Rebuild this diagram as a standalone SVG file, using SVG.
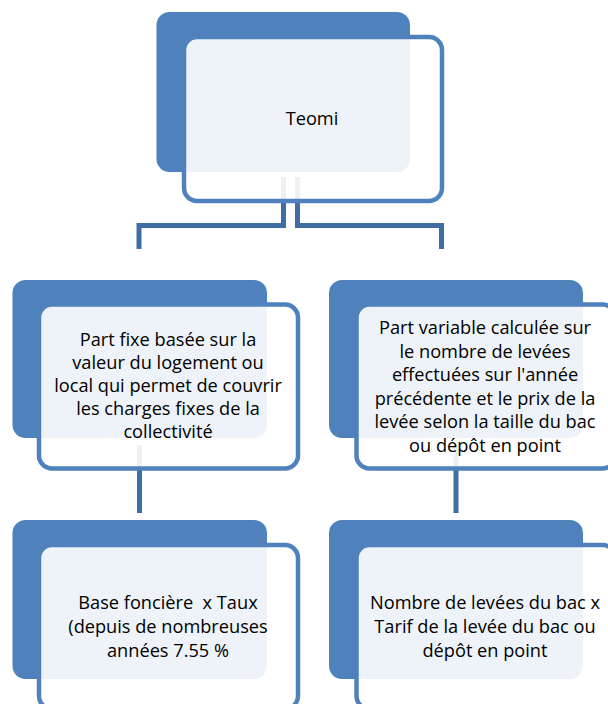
<svg xmlns="http://www.w3.org/2000/svg" width="608" height="704" viewBox="0 0 608 704">
<style>
.back{fill:#4F81BD}
.front{fill:#FFFFFF;fill-opacity:0.9;stroke:#4F81BD;stroke-width:4.5}
.conn{fill:none;stroke:#416DA5;stroke-width:5}
text{font-family:"Open Sans","Liberation Sans",Arial,sans-serif;font-size:18.2px;fill:#000;text-anchor:middle}
</style>
<rect width="608" height="704" fill="#FFFFFF"/>
<g id="connectors">
<path class="conn" d="M283.5,177 V225.5 H139 V249"/>
<path class="conn" d="M297.5,177 V225.5 H441.5 V249"/>
<path class="conn" d="M139.5,445 V513"/>
<path class="conn" d="M456,445 V513"/>
</g>
<g id="teomi">
<rect class="back" x="156.5" y="12" width="253.5" height="160" rx="13"/>
<rect class="front" x="184" y="37" width="258" height="164" rx="13"/>
<text x="312" y="125">Teomi</text>
</g>
<g id="part-fixe">
<rect class="back" x="12.5" y="280" width="254.5" height="158" rx="13"/>
<rect class="front" x="39" y="304.5" width="259" height="164" rx="13"/>
<text x="168" y="346">Part fixe basée sur la</text>
<text x="168" y="369">valeur du logement ou</text>
<text x="168" y="392">local qui permet de couvrir</text>
<text x="168" y="415">les charges fixes de la</text>
<text x="168" y="438">collectivité</text>
</g>
<g id="part-variable">
<rect class="back" x="329" y="280" width="254" height="158" rx="13"/>
<rect class="front" x="356.5" y="304.5" width="259" height="164" rx="13"/>
<text x="485" y="334">Part variable calculée sur</text>
<text x="485" y="357.5">le nombre de levées</text>
<text x="485" y="381">effectuées sur l'année</text>
<text x="485" y="404.5">précédente et le prix de la</text>
<text x="485" y="428">levée selon la taille du bac</text>
<text x="485" y="451.5">ou dépôt en point</text>
</g>
<g id="base-fonciere">
<rect class="back" x="12.5" y="520" width="254.5" height="159" rx="13"/>
<rect class="front" x="39" y="545" width="259" height="164" rx="13"/>
<text x="168" y="609" xml:space="preserve">Base foncière  x Taux</text>
<text x="168" y="633">(depuis de nombreuses</text>
<text x="168" y="657">années 7.55 %</text>
</g>
<g id="nombre-levees">
<rect class="back" x="329" y="520" width="254" height="159" rx="13"/>
<rect class="front" x="356.5" y="545" width="259" height="164" rx="13"/>
<text x="485" y="609">Nombre de levées du bac x</text>
<text x="485" y="633">Tarif de la levée du bac ou</text>
<text x="485" y="657">dépôt en point</text>
</g>
</svg>
